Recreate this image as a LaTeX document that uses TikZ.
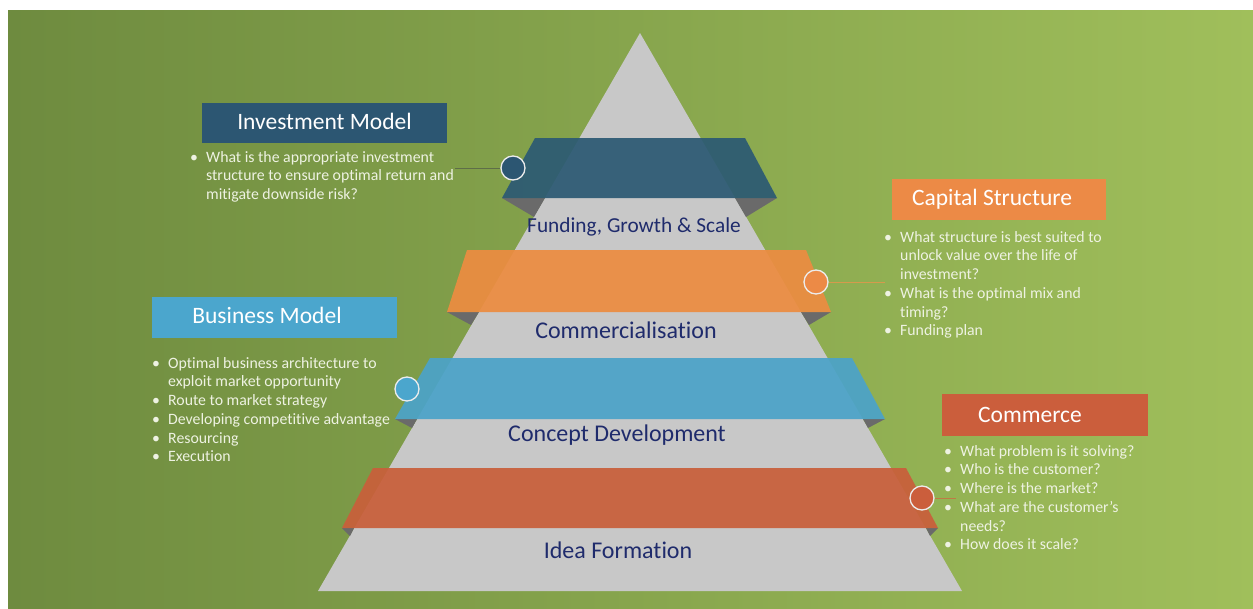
\documentclass[tikz,border=0pt]{standalone}
\usepackage{fontspec}
\setmainfont{Carlito}[Ligatures=CommonOff]
\usetikzlibrary{calc}
\definecolor{bgleft}{HTML}{6E8B3F}
\definecolor{bgright}{HTML}{A0BF5B}
\definecolor{pyr}{HTML}{C8C8C8}
\definecolor{shade}{HTML}{6A6A6A}
\definecolor{navyband}{HTML}{2C5A73}
\definecolor{orangeband}{HTML}{EC8C41}
\definecolor{blueband}{HTML}{4CA3C9}
\definecolor{redband}{HTML}{C95F3B}
\definecolor{navybox}{HTML}{2C5672}
\definecolor{orangebox}{HTML}{EC8A46}
\definecolor{bluebox}{HTML}{4BA6CD}
\definecolor{redbox}{HTML}{CB5E3C}
\definecolor{labelink}{HTML}{1F2B6C}
\definecolor{bulletink}{HTML}{EEF2E2}
\definecolor{connector}{HTML}{5E6E48}
\tikzset{
  band/.style={fill opacity=0.93},
  fold/.style={fill=shade},
  titletext/.style={text=white, font=\fontsize{23.5}{28}\selectfont, inner sep=0pt},
  layertext/.style={text=labelink, font=\fontsize{24}{28}\selectfont, inner sep=0pt},
  bullets/.style={text=bulletink, font=\fontsize{15.8}{18.7}\selectfont, inner sep=0pt, anchor=north west},
  dot/.style={circle, minimum size=24pt, inner sep=0pt, draw=white!85!gray, line width=1.3pt},
  lead/.style={draw=connector, line width=0.8pt}
}
\newcommand{\bl}{\makebox[16pt][l]{\textbullet}}
\begin{document}
\begin{tikzpicture}[x=1pt, y=-1pt]
\useasboundingbox (0,0) rectangle (1253,608);
% background
\fill[white] (0,0) rectangle (1253,608);
\shade[left color=bgleft, right color=bgright] (8,10) rectangle (1253,608);

% pyramid body
\fill[pyr] (640,33) -- (962,591) -- (318,591) -- cycle;

% fold shadows under the ribbon ends
\fill[fold] (502,198) -- (545,198) -- (534,217) -- cycle;
\fill[fold] (777,198) -- (735,198) -- (746,217) -- cycle;
\fill[fold] (447,312) -- (479,312) -- (471,325) -- cycle;
\fill[fold] (831,312) -- (801,312) -- (809,325) -- cycle;
\fill[fold] (395,419) -- (417,419) -- (412,428) -- cycle;
\fill[fold] (885,419) -- (863,419) -- (868,428) -- cycle;
\fill[fold] (342,528) -- (354,528) -- (350,536) -- cycle;
\fill[fold] (938,528) -- (926,528) -- (930,536) -- cycle;

% ribbons
\fill[band, navyband] (535,138) -- (745,138) -- (777,198) -- (502,198) -- cycle;
\fill[band, orangeband] (467,250) -- (806,250) -- (831,312) -- (447,312) -- cycle;
\fill[band, blueband] (430,358) -- (852,358) -- (885,419) -- (395,419) -- cycle;
\fill[band, redband] (373,468) -- (906,468) -- (938,528) -- (342,528) -- cycle;

% layer labels
\node[layertext, font=\fontsize{21.3}{26}\selectfont] (l1) at (634,227) {Funding, Growth \& Scale};
\node[layertext] (l2) at (626,330) {Commercialisation};
\node[layertext] (l3) at (617,435) {Concept Development};
\node[layertext] (l4) at (618,550) {Idea Formation};

% connectors and markers
\coordinate (e1) at (455,168);
\coordinate (e2) at (885,282);
\coordinate (e4) at (956,498);
\node[dot, fill=navybox] (d1) at (513,168) {};
\node[dot, fill=orangebox] (d2) at (816,282) {};
\node[dot, fill=bluebox] (d3) at (407,389) {};
\node[dot, fill=redbox] (d4) at (922,498) {};
\draw[lead] (d1.west) -- (e1);
\draw[lead, draw=orangebox!70!bgright] (d2.east) -- (e2);
\draw[lead, draw=redbox!70!bgright] (d4.east) -- (e4);

% title boxes
\fill[navybox] (202,103) rectangle (447,143);
\fill[orangebox] (892,179) rectangle (1106,220);
\fill[bluebox] (152,297) rectangle (397,338);
\fill[redbox] (942,394) rectangle (1148,436);
\node[titletext] (t1) at (324.5,121) {Investment Model};
\node[titletext] (t2) at (992,199) {Capital Structure};
\node[titletext] (t3) at (267,315) {Business Model};
\node[titletext] (t4) at (1030,415) {Commerce};

% bullet lists
\node[bullets] (b1) at (190,149) {\begin{tabular}{@{}l@{}l@{}}
\bl & What is the appropriate investment\\
    & structure to ensure optimal return and\\
    & mitigate downside risk?
\end{tabular}};
\node[bullets] (b2) at (884,229) {\begin{tabular}{@{}l@{}l@{}}
\bl & What structure is best suited to\\
    & unlock value over the life of\\
    & investment?\\
\bl & What is the optimal mix and\\
    & timing?\\
\bl & Funding plan
\end{tabular}};
\node[bullets] (b3) at (152,355) {\begin{tabular}{@{}l@{}l@{}}
\bl & Optimal business architecture to\\
    & exploit market opportunity\\
\bl & Route to market strategy\\
\bl & Developing competitive advantage\\
\bl & Resourcing\\
\bl & Execution
\end{tabular}};
\node[bullets] (b4) at (944,443) {\begin{tabular}{@{}l@{}l@{}}
\bl & What problem is it solving?\\
\bl & Who is the customer?\\
\bl & Where is the market?\\
\bl & What are the customer's\\
    & needs?\\
\bl & How does it scale?
\end{tabular}};
\end{tikzpicture}
\end{document}
